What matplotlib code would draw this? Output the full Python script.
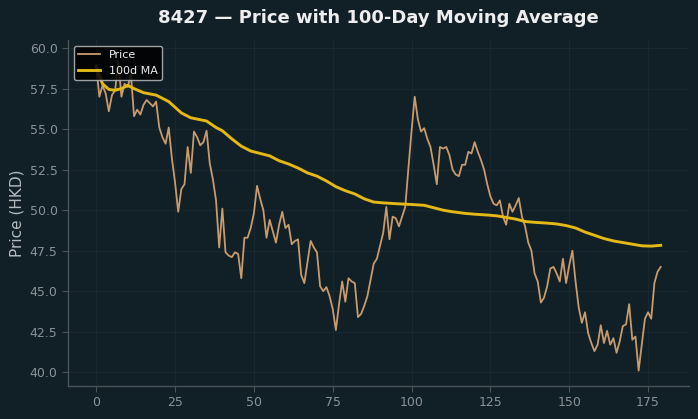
import matplotlib
matplotlib.use("Agg")
import matplotlib.pyplot as plt
import numpy as np

# ---- data ----
price = [
    58.9, 57.0, 57.7, 57.2, 56.1, 57.1, 57.4, 59.2, 57.0, 57.8,
    57.6, 58.4, 55.8, 56.2, 55.9, 56.5, 56.8, 56.6, 56.4, 56.7,
    55.1, 54.5, 54.1, 55.1, 53.2, 51.7, 49.9, 51.3, 51.6, 53.9,
    52.3, 54.85, 54.5, 54.0, 54.2, 54.9, 52.9, 51.9, 50.6, 47.7,
    50.1, 47.4, 47.2, 47.1, 47.4, 47.3, 45.8, 48.3, 48.3, 48.9,
    49.8, 51.5, 50.7, 50.0, 48.3, 49.4, 48.7, 48.0, 49.1, 49.9,
    48.9, 49.1, 47.9, 48.1, 48.2, 46.0, 45.5, 46.8, 48.1, 47.7,
    47.4, 45.3, 45.0, 45.25, 44.7, 43.9, 42.6, 44.2, 45.6, 44.35,
    45.8, 45.6, 45.5, 43.4, 43.6, 44.1, 44.7, 45.7, 46.7, 47.0,
    47.8, 48.6, 50.2, 48.2, 49.6, 49.5, 49.0, 49.6, 50.2, 52.6,
    54.9, 57.0, 55.6, 54.85, 55.06, 54.4, 53.9, 52.8, 51.6, 53.9,
    53.8, 53.9, 53.4, 52.5, 52.2, 52.1, 52.8, 52.8, 53.6, 53.5,
    54.2, 53.6, 53.1, 52.5, 51.6, 50.85, 50.4, 50.3, 50.6, 49.6,
    49.1, 50.4, 49.9, 50.3, 50.75, 49.6, 49.0, 48.0, 47.5, 46.1,
    45.6, 44.3, 44.6, 45.3, 46.4, 46.5, 46.1, 45.6, 47.0, 45.5,
    46.6, 47.5, 45.6, 44.0, 43.05, 43.7, 42.4, 41.8, 41.3, 41.7,
    42.9, 41.8, 42.55, 41.7, 42.1, 41.2, 41.9, 42.85, 42.95, 44.2,
    42.0, 42.2, 40.1, 41.7, 43.3, 43.7, 43.3, 45.5, 46.2, 46.5,
]
days = list(range(len(price)))

ma_days = [0, 2, 4, 6, 8, 10, 12, 15, 19, 23, 27, 30, 35, 38, 40, 43, 46, 49,
           52, 55, 58, 61, 64, 67, 70, 73, 76, 79, 82, 85, 88, 91, 95, 100,
           104, 107, 110, 113, 117, 120, 124, 127, 130, 133, 136, 139, 143,
           146, 149, 152, 155, 158, 161, 164, 167, 170, 173, 176, 179]
ma_values = [58.9, 57.8, 57.45, 57.4, 57.5, 57.7, 57.5, 57.25, 57.1, 56.7,
             56.0, 55.7, 55.5, 55.1, 54.9, 54.4, 53.95, 53.65, 53.5, 53.35,
             53.05, 52.85, 52.6, 52.3, 52.1, 51.8, 51.45, 51.2, 51.0, 50.7,
             50.5, 50.45, 50.4, 50.35, 50.3, 50.15, 50.0, 49.9, 49.8, 49.75,
             49.7, 49.65, 49.55, 49.45, 49.3, 49.25, 49.2, 49.15, 49.05, 48.9,
             48.65, 48.45, 48.25, 48.1, 48.0, 47.9, 47.8, 47.78, 47.83]

title = "8427 \u2014 Price with 100-Day Moving Average"
ylabel = "Price (HKD)"

# ---- style ----
bg = "#111f26"
fig = plt.figure(figsize=(6.98, 4.19), dpi=100, facecolor=bg)
ax = fig.add_axes([0.0974, 0.0788, 0.8896, 0.8257], facecolor=bg)

ax.plot(days, price, color="#c89b6d", lw=1.3, label="Price", zorder=3)
ax.plot(ma_days, ma_values, color="#e3b817", lw=2.1, label="100d MA", zorder=4)

ax.set_xlim(-8.95, 187.95)
ax.set_ylim(39.15, 60.5)
ax.set_xticks([0, 25, 50, 75, 100, 125, 150, 175])
ax.set_yticks([40.0, 42.5, 45.0, 47.5, 50.0, 52.5, 55.0, 57.5, 60.0])
ax.yaxis.set_major_formatter(matplotlib.ticker.FormatStrFormatter("%.1f"))

ax.grid(True, color="#1a282f", lw=0.7, zorder=0)
for s in ["top", "right"]:
    ax.spines[s].set_visible(False)
for s in ["left", "bottom"]:
    ax.spines[s].set_color("#4b5559")
    ax.spines[s].set_linewidth(1.0)
ax.tick_params(colors="#4b5559", labelcolor="#8a9398", labelsize=9, length=4)

ax.set_ylabel(ylabel, color="#b4bcc0", fontsize=11)
ax.set_title(title, color="#eeeeee", fontsize=13, fontweight="bold", pad=12)

leg = ax.legend(loc="upper left", fontsize=8, facecolor="#000000",
                edgecolor="#b8bcbe", framealpha=0.85, fancybox=True)
for t in leg.get_texts():
    t.set_color("#eeeeee")

fig.savefig("out.png", dpi=100, facecolor=bg)
